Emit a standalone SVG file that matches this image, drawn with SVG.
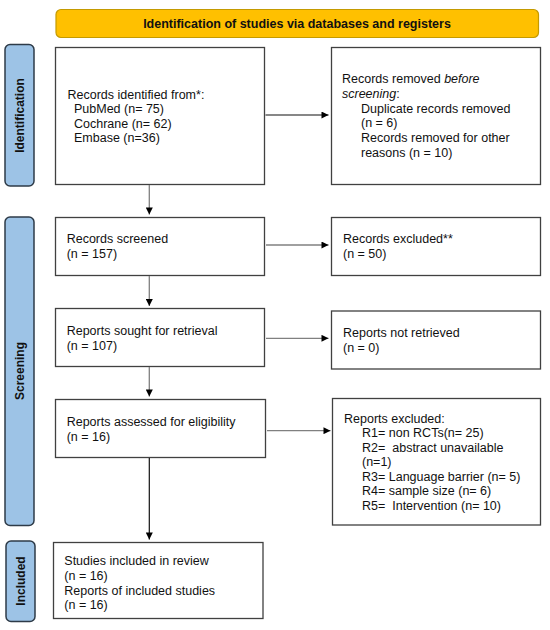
<svg xmlns="http://www.w3.org/2000/svg" width="550" height="630" viewBox="0 0 550 630">
<style>
text{font-family:"Liberation Sans",Arial,sans-serif;font-size:12.5px;fill:#111;white-space:pre}
.box{fill:#fff;stroke:#404040;stroke-width:1.3}
.side{fill:#9dc3e6;stroke:#2e3b48;stroke-width:1.5}
.side-t{font-weight:bold;text-anchor:middle;font-size:12px}
.hdr{fill:#ffc000;stroke:#c49a00;stroke-width:1.2}
.gl{stroke:#808080;stroke-width:1.3;fill:none}
.bl{stroke:#111;stroke-width:1.2;fill:none}
</style>
<defs>
<marker id="ah" viewBox="0 0 10 10" refX="10" refY="5" markerWidth="8" markerHeight="7" markerUnits="userSpaceOnUse" orient="auto">
<path d="M0,0 L10,5 L0,10 z" fill="#000"/>
</marker>
</defs>
<rect width="550" height="630" fill="#fff"/>
<g id="header">
<rect class="hdr" x="56" y="9.5" width="482.5" height="28" rx="5"/>
<text x="297" y="27.8" text-anchor="middle" font-weight="bold">Identification of studies via databases and registers</text>
</g>
<g id="side-identification">
<rect class="side" x="5" y="44.5" width="29" height="141.5" rx="5"/>
<text class="side-t" transform="translate(23.8,115.5) rotate(-90)">Identification</text>
</g>
<g id="side-screening">
<rect class="side" x="5" y="217" width="29" height="308.5" rx="5"/>
<text class="side-t" transform="translate(23.8,371) rotate(-90)">Screening</text>
</g>
<g id="side-included">
<rect class="side" x="6" y="541" width="29" height="80.5" rx="5"/>
<text class="side-t" transform="translate(24.8,581) rotate(-90)">Included</text>
</g>
<g id="records-identified">
<rect class="box" x="55.5" y="47.5" width="209" height="137"/>
<text x="67.5" y="98.5">Records identified from*:</text>
<text x="74" y="113">PubMed (n= 75)</text>
<text x="74" y="127.5">Cochrane (n= 62)</text>
<text x="74" y="142">Embase (n=36)</text>
</g>
<g id="records-removed">
<rect class="box" x="331.5" y="47.5" width="209" height="137"/>
<text x="342" y="83">Records removed <tspan font-style="italic">before</tspan></text>
<text x="342" y="98"><tspan font-style="italic">screening</tspan>:</text>
<text x="361" y="112.5">Duplicate records removed</text>
<text x="361" y="127">(n = 6)</text>
<text x="361" y="141.5">Records removed for other</text>
<text x="361" y="156.5">reasons (n = 10)</text>
</g>
<g id="records-screened">
<rect class="box" x="55.5" y="217.5" width="209" height="58"/>
<text x="66.7" y="242.5">Records screened</text>
<text x="66.7" y="257.5">(n = 157)</text>
</g>
<g id="records-excluded">
<rect class="box" x="331.5" y="217.5" width="209" height="58"/>
<text x="343" y="242.5">Records excluded**</text>
<text x="343" y="257.5">(n = 50)</text>
</g>
<g id="reports-sought">
<rect class="box" x="55.5" y="308.5" width="209" height="58"/>
<text x="66.7" y="335">Reports sought for retrieval</text>
<text x="66.7" y="350">(n = 107)</text>
</g>
<g id="reports-not-retrieved">
<rect class="box" x="331.5" y="311" width="209" height="58"/>
<text x="343" y="337">Reports not retrieved</text>
<text x="343" y="351.5">(n = 0)</text>
</g>
<g id="reports-assessed">
<rect class="box" x="55.5" y="399.5" width="210" height="58"/>
<text x="66.7" y="426">Reports assessed for eligibility</text>
<text x="66.7" y="440.5">(n = 16)</text>
</g>
<g id="reports-excluded">
<rect class="box" x="332.5" y="398.5" width="208" height="126.5"/>
<text x="344" y="422.5">Reports excluded:</text>
<text x="362" y="437">R1= non RCTs(n= 25)</text>
<text x="362" y="451.5">R2=  abstract unavailable</text>
<text x="362" y="466">(n=1)</text>
<text x="362" y="480.5">R3= Language barrier (n= 5)</text>
<text x="362" y="495">R4= sample size (n= 6)</text>
<text x="362" y="509.5">R5=  Intervention (n= 10)</text>
</g>
<g id="studies-included">
<rect class="box" x="53.5" y="542.5" width="209.5" height="76"/>
<text x="64.3" y="565">Studies included in review</text>
<text x="64.3" y="580">(n = 16)</text>
<text x="64.3" y="594.5">Reports of included studies</text>
<text x="64.3" y="608.5">(n = 16)</text>
</g>
<g id="connectors">
<line class="bl" x1="265.5" y1="115" x2="328.5" y2="115" marker-end="url(#ah)"/>
<line class="gl" x1="149.3" y1="185" x2="149.3" y2="214.5" marker-end="url(#ah)"/>
<line class="gl" x1="266" y1="245" x2="328.5" y2="245" marker-end="url(#ah)"/>
<line class="gl" x1="149.3" y1="276" x2="149.3" y2="306" marker-end="url(#ah)"/>
<line class="gl" x1="266" y1="338.3" x2="328.5" y2="338.3" marker-end="url(#ah)"/>
<line class="gl" x1="149.3" y1="367" x2="149.3" y2="396.5" marker-end="url(#ah)"/>
<line class="gl" x1="267" y1="430.7" x2="330.5" y2="430.7" stroke-width="1" marker-end="url(#ah)"/>
<line class="bl" x1="149.3" y1="458" x2="149.3" y2="539.5" marker-end="url(#ah)"/>
</g>
</svg>
